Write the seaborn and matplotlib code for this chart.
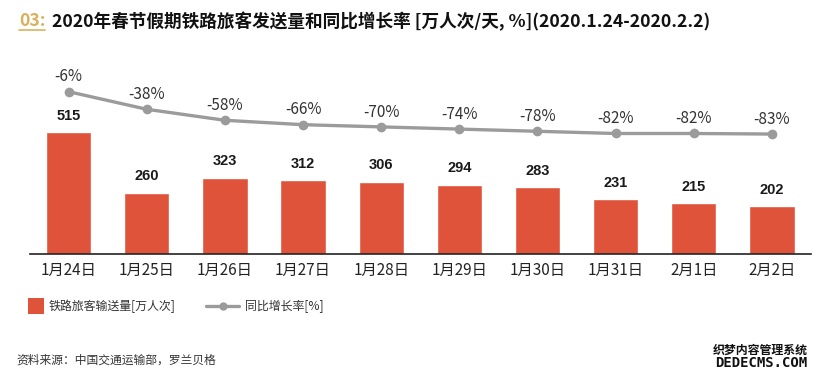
import numpy as np
import pandas as pd
import matplotlib
matplotlib.use("Agg")
import matplotlib.pyplot as plt
from matplotlib.lines import Line2D
import seaborn as sns

# dati
giorni = ["1月24日", "1月25日", "1月26日", "1月27日", "1月28日",
          "1月29日", "1月30日", "1月31日", "2月1日", "2月2日"]
passeggeri = [515, 260, 323, 312, 306, 294, 283, 231, 215, 202]
crescita = [-6, -38, -58, -66, -70, -74, -78, -82, -82, -83]

titolo = "2020年春节假期铁路旅客发送量和同比增长率 [万人次/天, %](2020.1.24-2020.2.2)"
nome_barre = "铁路旅客输送量[万人次]"
nome_linea = "同比增长率[%]"
fonte = "资料来源：中国交通运输部，罗兰贝格"

ROSSO = "#E0533B"
GRIGIO = "#9B9B9B"
ORO = "#D9B15C"

sns.set_style("white")
plt.rcParams['font.family'] = ['Noto Sans CJK SC', 'DejaVu Sans']

df = pd.DataFrame({"giorno": giorni, "passeggeri": passeggeri, "crescita": crescita})

fig = plt.figure(figsize=(8.2, 3.78), dpi=100)
ax = fig.add_axes([0.036, 0.328, 0.953, 0.487])

sns.barplot(data=df, x="giorno", y="passeggeri", color=ROSSO, width=0.58,
            saturation=1, ax=ax)
ax.set_ylim(0, 780)
ax.set_xlim(-0.5, len(giorni) - 0.5)
ax.set_xlabel("")
ax.set_ylabel("")
ax.set_yticks([])
ax.tick_params(axis="x", length=0, labelsize=11, pad=6, colors="#222222")
for s in ["top", "right", "left"]:
    ax.spines[s].set_visible(False)
ax.spines["bottom"].set_color("#222222")
ax.spines["bottom"].set_linewidth(1.2)

# etichette sopra le barre
for i, v in enumerate(passeggeri):
    ax.annotate(str(v), (i, v), xytext=(0, 7), textcoords="offset points",
                ha="center", va="bottom", fontsize=10.5, fontweight="bold",
                family="Liberation Sans", color="#1a1a1a")

# linea della crescita su asse gemello
ax2 = ax.twinx()
sns.lineplot(x=np.arange(len(crescita)), y=crescita, ax=ax2, color=GRIGIO,
             linewidth=2.4, marker="o", markersize=7, markeredgewidth=0)
ax2.set_ylim(-301, 33.5)
ax2.set_yticks([])
ax2.set_ylabel("")
for s in ax2.spines.values():
    s.set_visible(False)
for i, r in enumerate(crescita):
    ax2.annotate(f"{r}%", (i, r), xytext=(0, 4.5), textcoords="offset points",
                 ha="center", va="bottom", fontsize=11, color="#333333")

# legenda: quadrato rosso e linea con marcatore
quadrato = Line2D([], [], linestyle="none", marker="s", markersize=11,
                  markerfacecolor=ROSSO, markeredgewidth=0)
linea = Line2D([], [], color=GRIGIO, linewidth=2.4, marker="o", markersize=6,
               markeredgewidth=0)
leg1 = fig.legend([quadrato], [nome_barre], loc="center left",
                  bbox_to_anchor=(0.024, 0.19), frameon=False, fontsize=8.6,
                  handlelength=1.0, handletextpad=0.5, labelcolor="#333333")
leg2 = fig.legend([linea], [nome_linea], loc="center left",
                  bbox_to_anchor=(0.238, 0.19), frameon=False, fontsize=8.6,
                  handlelength=2.8, handletextpad=0.5, labelcolor="#333333")

# titolo
fig.text(0.023, 0.944, "03:", fontsize=12.7, fontweight="bold", color=ORO,
         va="center")
fig.add_artist(Line2D([0.023, 0.055], [0.921, 0.921], color=ORO, lw=1.2))
fig.text(0.064, 0.944, titolo, fontsize=12.7, fontweight="bold", color="#111111",
         va="center")

# fonte
fig.text(0.02, 0.048, fonte, fontsize=8.5, color="#333333", va="center")

# filigrana
fig.text(0.985, 0.074, "织梦内容管理系统", fontsize=8.6, fontweight="bold",
         ha="right", va="center", color="#111111")
fig.text(0.985, 0.040, "DEDECMS.COM", fontsize=10, fontweight="bold",
         family="DejaVu Sans Mono", ha="right", va="center", color="#111111")

fig.savefig("out.png", dpi=100)
